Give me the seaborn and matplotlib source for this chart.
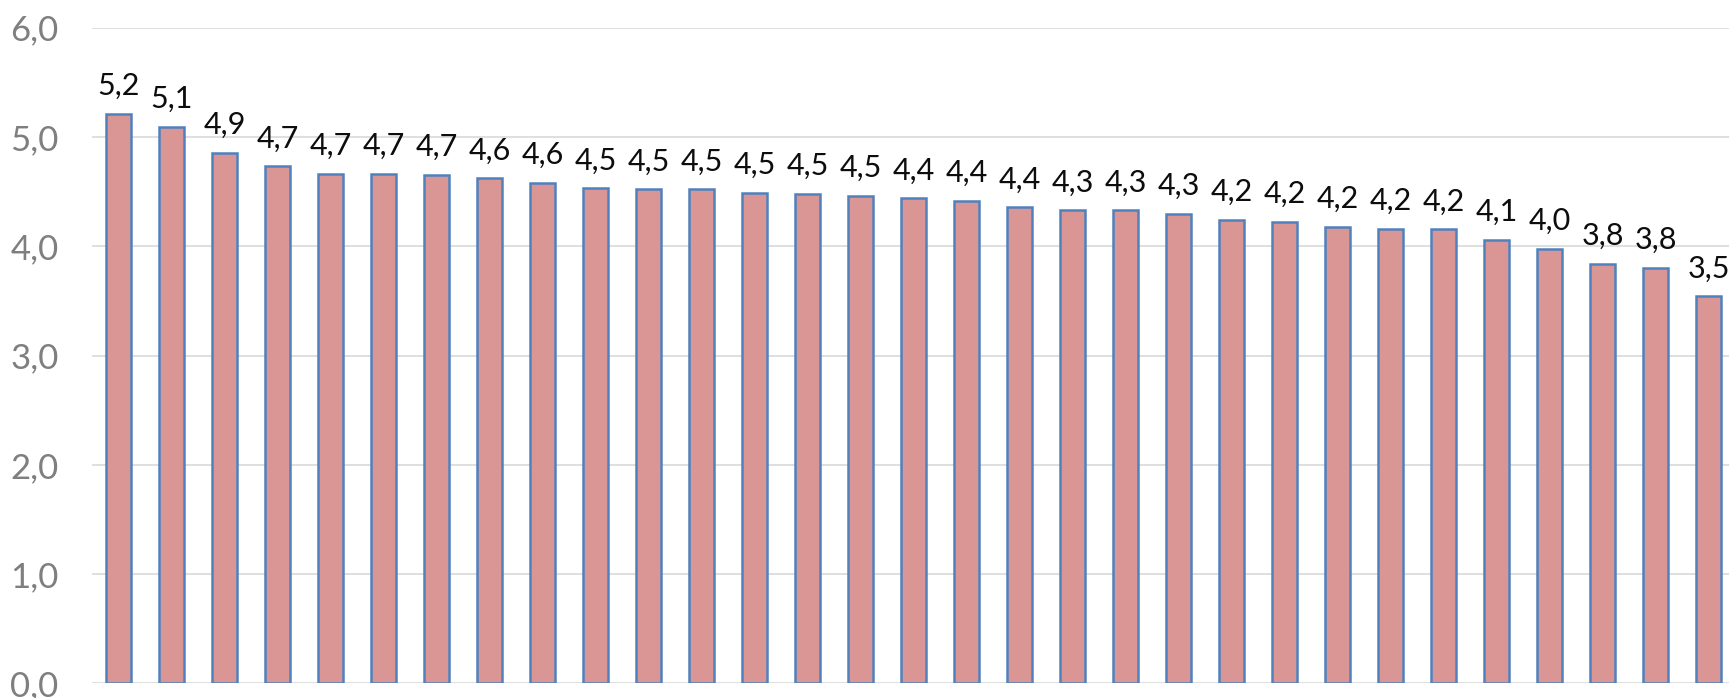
import pandas as pd
import matplotlib
matplotlib.use("Agg")
import matplotlib.pyplot as plt
import seaborn as sns
from matplotlib.ticker import FuncFormatter


# bar values (sorted high to low)
positions = [str(i) for i in range(1, 32)]
values = [5.213, 5.094, 4.853, 4.731, 4.664, 4.664, 4.652, 4.622, 4.581, 4.530,
          4.521, 4.521, 4.490, 4.481, 4.460, 4.439, 4.417, 4.355, 4.329, 4.329,
          4.298, 4.240, 4.222, 4.179, 4.160, 4.155, 4.060, 3.977, 3.840, 3.801,
          3.544]
y_ticks = [0, 1, 2, 3, 4, 5, 6]

df = pd.DataFrame({"pos": positions, "value": values})

sns.set_style("white")
plt.rcParams["font.family"] = ["Lato", "DejaVu Sans"]

W, H = 1729, 698
fig = plt.figure(figsize=(W / 100, H / 100), dpi=100)
ax = fig.add_axes([92 / W, (H - 683.3) / H, (1735 - 92) / W, (683.3 - 27.7) / H])

sns.barplot(data=df, x="pos", y="value", color="#D99694", saturation=1,
            edgecolor="#4F81BD", linewidth=1.8, width=0.48, errorbar=None,
            zorder=3, ax=ax)

# data labels, decimal comma
for i, v in enumerate(values):
    ax.annotate(f"{v:.1f}".replace(".", ","), xy=(i, v), xytext=(0, 13.5),
                textcoords="offset points", ha="center", va="baseline",
                fontsize=22, color="#0D0D0D", zorder=4)

ax.set_ylim(0, 6)
ax.set_yticks(y_ticks)
ax.yaxis.set_major_formatter(FuncFormatter(lambda y, _: f"{y:.1f}".replace(".", ",")))
ax.tick_params(axis="y", length=0, pad=24, labelsize=25, labelcolor="#7F7F7F")
ax.set_xticks([])
ax.set_xlabel("")
ax.set_ylabel("")
ax.grid(axis="y", color="#D9D9D9", linewidth=1.2, zorder=0)
ax.set_axisbelow(True)
sns.despine(ax=ax, left=True, bottom=True)

fig.savefig("out.png", dpi=100)
